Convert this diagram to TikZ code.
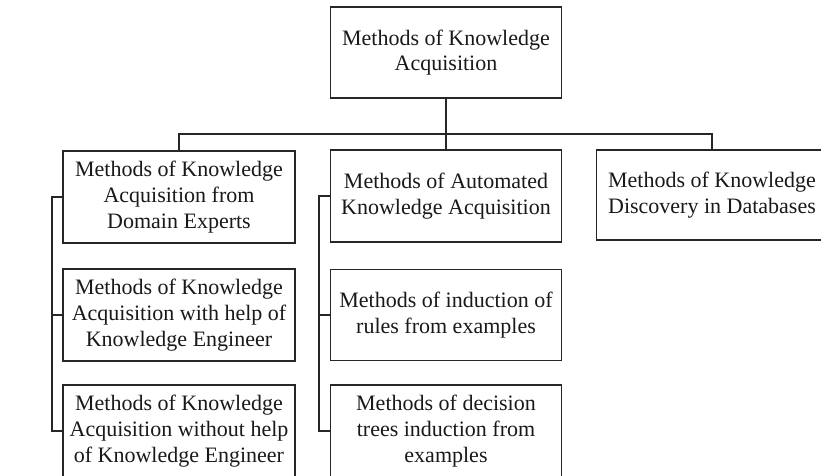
\documentclass[tikz,border=0pt]{standalone}
\usepackage{fontspec}
\setmainfont{Liberation Serif}
\begin{document}
\begin{tikzpicture}[x=1pt,y=1pt,
  box/.style={draw=black!85, line width=1.3pt, rectangle, inner sep=0pt,
    align=center, text=black!90, font=\fontsize{22}{25.8}\selectfont},
  link/.style={draw=black!85, line width=1.3pt}]
\useasboundingbox (0,0) rectangle (821,-475);
\clip (0,0) rectangle (821,-475);
\fill[white] (0,0) rectangle (821,-475);
\node[box, minimum width=231pt, minimum height=91pt] (root) at (446,-52.5) {Methods of Knowledge\\Acquisition};
\node[box, minimum width=232pt, minimum height=92pt] (b1) at (179,-197) {Methods of Knowledge\\Acquisition from\\Domain Experts};
\node[box, minimum width=231pt, minimum height=92pt] (b2) at (446,-196) {Methods of Automated\\Knowledge Acquisition};
\node[box, minimum width=231pt, minimum height=90pt] (b3) at (712,-195) {Methods of Knowledge\\Discovery in Databases};
\node[box, minimum width=232pt, minimum height=92pt] (b4) at (179,-315) {Methods of Knowledge\\Acquisition with help of\\Knowledge Engineer};
\node[box, minimum width=232pt, minimum height=92pt] (b5) at (179,-431) {Methods of Knowledge\\Acquisition without help\\of Knowledge Engineer};
\node[box, minimum width=231pt, minimum height=91pt] (b6) at (446,-315) {Methods of induction of\\rules from examples};
\node[box, minimum width=231pt, minimum height=92pt] (b7) at (446,-431) {Methods of decision\\trees induction from\\examples};
\coordinate (bus) at (0,-134);
\coordinate (spineL) at (52,0);
\coordinate (spineM) at (319,0);
\draw[link] (root.south) -- (root.south |- bus);
\draw[link] (b1.north) -- (b1.north |- bus) -- (b3.north |- bus) -- (b3.north);
\draw[link] (b2.north) -- (root.south |- bus);
\draw[link] (b1.west) -- (b1.west -| spineL) -- (b5.west -| spineL) -- (b5.west);
\draw[link] (b4.west) -- (b4.west -| spineL);
\draw[link] (b2.west) -- (b2.west -| spineM) -- (b7.west -| spineM) -- (b7.west);
\draw[link] (b6.west) -- (b6.west -| spineM);
\end{tikzpicture}
\end{document}
